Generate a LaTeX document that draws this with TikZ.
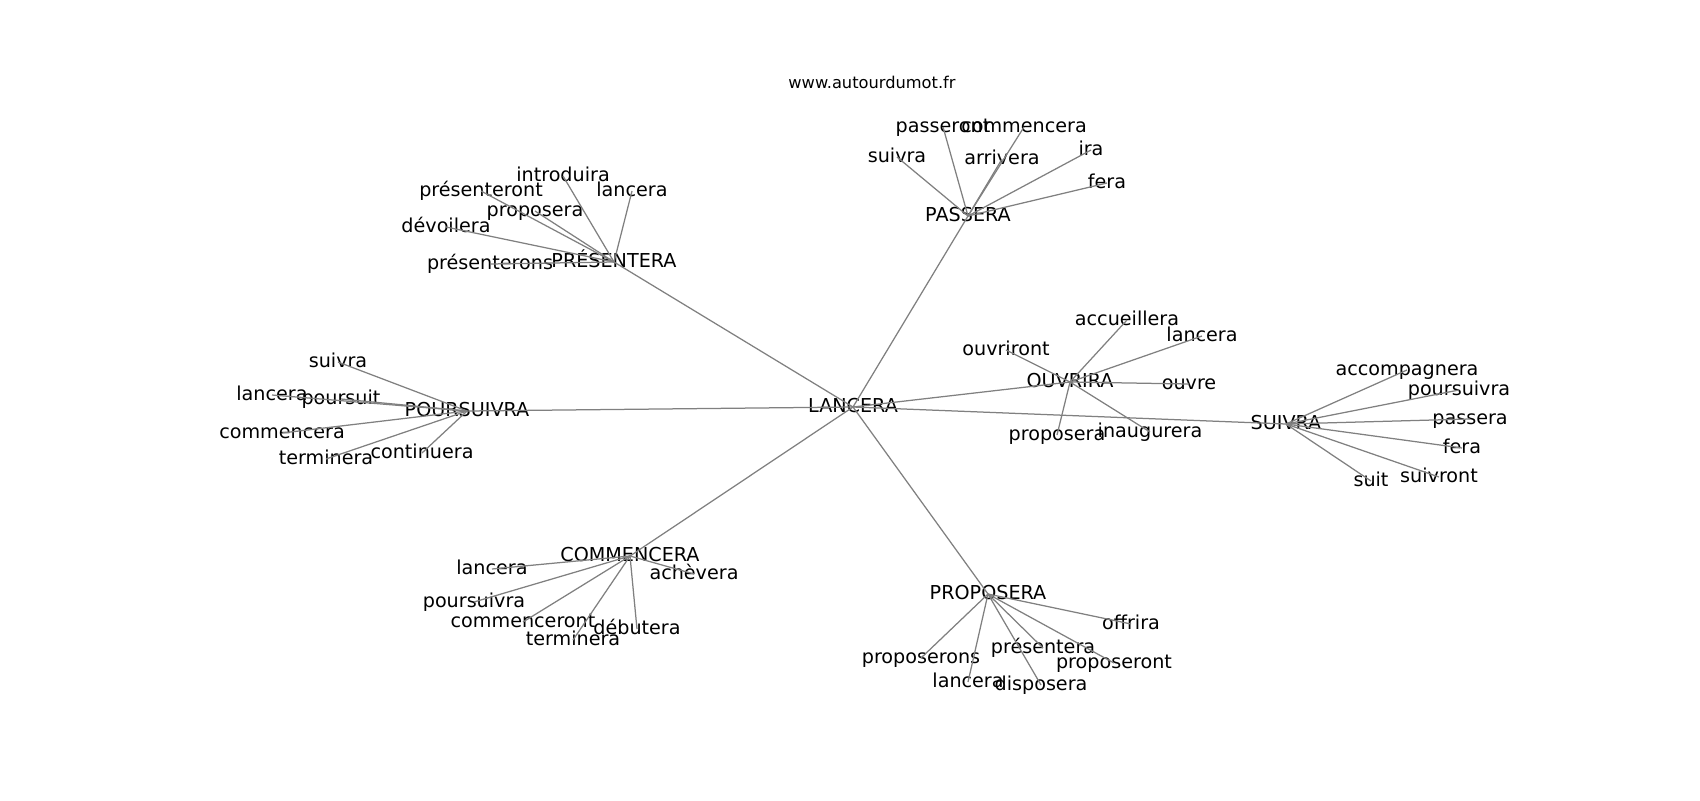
\documentclass[tikz,border=0pt]{standalone}
\usepackage{fontspec}
\setmainfont{DejaVu Sans}
\begin{document}
\begin{tikzpicture}[x=0.72pt,y=-0.72pt,
  lbl/.style={inner sep=0pt,anchor=center,font=\fontsize{13.8pt}{15pt}\selectfont,text height=0.98em,text depth=0.236em},
  ttl/.style={inner sep=0pt,anchor=center,font=\fontsize{11.7pt}{14pt}\selectfont,text height=0.86em,text depth=0.236em},
  edge/.style={draw=black!50,line width=0.9pt}]
\useasboundingbox (0,0) rectangle (1700,800);
% nodes
\node[ttl] (title) at (872,84) {www.autourdumot.fr};
\node[lbl] (lan) at (853,407) {LANCERA};
\node[lbl] (pas) at (968,216) {PASSERA};
\node[lbl] (pre) at (614,262) {PRÉSENTERA};
\node[lbl] (pou) at (467,411) {POURSUIVRA};
\node[lbl] (com) at (630,556) {COMMENCERA};
\node[lbl] (pro) at (988,594) {PROPOSERA};
\node[lbl] (ouv) at (1070,382) {OUVRIRA};
\node[lbl] (sui) at (1286,424) {SUIVRA};
% PASSERA leaves
\node[lbl] (pa1) at (897,157) {suivra};
\node[lbl] (pa2) at (943,127) {passeront};
\node[lbl] (pa3) at (1024,127) {commencera};
\node[lbl] (pa4) at (1002,159) {arrivera};
\node[lbl] (pa5) at (1091,150) {ira};
\node[lbl] (pa6) at (1107,183) {fera};
% PRESENTERA leaves
\node[lbl] (pr1) at (563,176) {introduira};
\node[lbl] (pr2) at (481,191) {présenteront};
\node[lbl] (pr3) at (632,191) {lancera};
\node[lbl] (pr4) at (535,211) {proposera};
\node[lbl] (pr5) at (446,227) {dévoilera};
\node[lbl] (pr6) at (490,264) {présenterons};
% POURSUIVRA leaves
\node[lbl] (po1) at (338,362) {suivra};
\node[lbl] (po2) at (272,395) {lancera};
\node[lbl] (po3) at (341,399) {poursuit};
\node[lbl] (po4) at (282,433) {commencera};
\node[lbl] (po5) at (326,459) {terminera};
\node[lbl] (po6) at (422,453) {continuera};
% COMMENCERA leaves
\node[lbl] (co1) at (492,569) {lancera};
\node[lbl] (co2) at (474,602) {poursuivra};
\node[lbl] (co3) at (523,622) {commenceront};
\node[lbl] (co4) at (573,640) {terminera};
\node[lbl] (co5) at (637,629) {débutera};
\node[lbl] (co6) at (694,574) {achèvera};
% PROPOSERA leaves
\node[lbl] (pp1) at (1131,624) {offrira};
\node[lbl] (pp2) at (1043,648) {présentera};
\node[lbl] (pp3) at (1114,663) {proposeront};
\node[lbl] (pp4) at (921,658) {proposerons};
\node[lbl] (pp5) at (968,682) {lancera};
\node[lbl] (pp6) at (1041,685) {disposera};
% OUVRIRA leaves
\node[lbl] (ou1) at (1127,320) {accueillera};
\node[lbl] (ou2) at (1202,336) {lancera};
\node[lbl] (ou3) at (1006,350) {ouvriront};
\node[lbl] (ou4) at (1189,384) {ouvre};
\node[lbl] (ou5) at (1057,435) {proposera};
\node[lbl] (ou6) at (1150,432) {inaugurera};
% SUIVRA leaves
\node[lbl] (su1) at (1407,370) {accompagnera};
\node[lbl] (su2) at (1459,390) {poursuivra};
\node[lbl] (su3) at (1470,419) {passera};
\node[lbl] (su4) at (1462,448) {fera};
\node[lbl] (su5) at (1439,477) {suivront};
\node[lbl] (su6) at (1371,481) {suit};
% edges (behind text)
\begin{scope}[on background layer/.try]
\foreach \h in {pas,pre,pou,com,pro,ouv,sui}
  \draw[edge] (lan.center) -- (\h.center);
\foreach \l in {pa1,pa2,pa3,pa4,pa5,pa6}
  \draw[edge] (pas.center) -- (\l.center);
\foreach \l in {pr1,pr2,pr3,pr4,pr5,pr6}
  \draw[edge] (pre.center) -- (\l.center);
\foreach \l in {po1,po2,po3,po4,po5,po6}
  \draw[edge] (pou.center) -- (\l.center);
\foreach \l in {co1,co2,co3,co4,co5,co6}
  \draw[edge] (com.center) -- (\l.center);
\foreach \l in {pp1,pp2,pp3,pp4,pp5,pp6}
  \draw[edge] (pro.center) -- (\l.center);
\foreach \l in {ou1,ou2,ou3,ou4,ou5,ou6}
  \draw[edge] (ouv.center) -- (\l.center);
\foreach \l in {su1,su2,su3,su4,su5,su6}
  \draw[edge] (sui.center) -- (\l.center);
\end{scope}
\end{tikzpicture}
\end{document}
